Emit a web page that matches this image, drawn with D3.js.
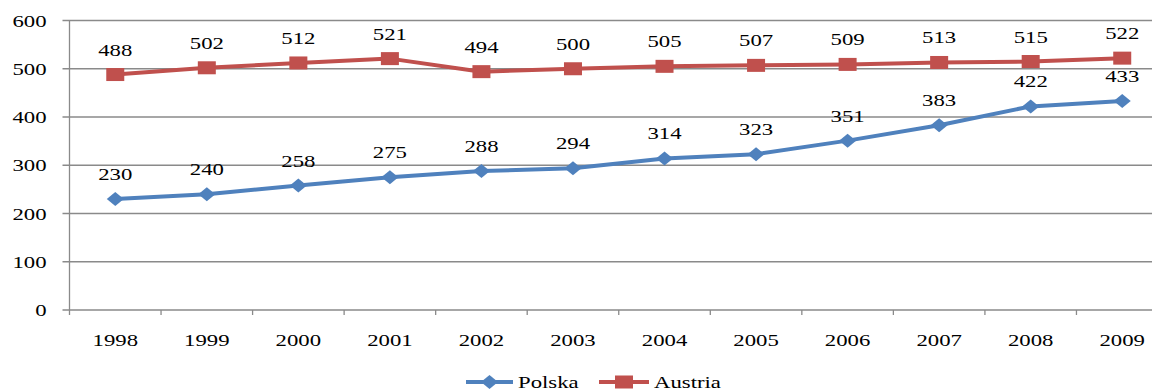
<!DOCTYPE html>
<html>
<head>
<meta charset="utf-8">
<script src="https://cdn.jsdelivr.net/npm/d3@7/dist/d3.min.js"></script>
<style>
  html, body { margin: 0; padding: 0; background: #fff; }
  svg { display: block; }
  text { font-family: "Liberation Serif", "Times New Roman", serif; fill: #000; }
</style>
</head>
<body>
<svg id="chart" width="1152" height="392"></svg>
<script>
// Data
const years = ["1998","1999","2000","2001","2002","2003","2004","2005","2006","2007","2008","2009"];
const polska = [230,240,258,275,288,294,314,323,351,383,422,433];
const austria = [488,502,512,521,494,500,505,507,509,513,515,522];
const yTicks = [0,100,200,300,400,500,600];
const seriesNames = ["Polska","Austria"];

const W = 1152, H = 392;
const plot = { left: 69.5, right: 1168, top: 20.5, bottom: 310 };
const STRETCH = 1.3; // horizontal text stretch
const FS = 17.5;

const svg = d3.select("#chart");

const x = d3.scaleBand().domain(years).range([plot.left, plot.right]);
const y = d3.scaleLinear().domain([0, 600]).range([plot.bottom, plot.top]);

// stretched text helper
function stext(g, tx, ty, str, anchor, size) {
  return g.append("text")
    .attr("transform", `translate(${tx},${ty}) scale(${STRETCH},1)`)
    .attr("text-anchor", anchor)
    .attr("font-size", size || FS)
    .text(str);
}

// gridlines + y ticks
const grid = svg.append("g");
yTicks.forEach(t => {
  grid.append("line")
    .attr("x1", plot.left - 7).attr("x2", W)
    .attr("y1", y(t)).attr("y2", y(t))
    .attr("stroke", "#8a8a8a").attr("stroke-width", 1.3);
  stext(grid, plot.left - 23, y(t) + 6, String(t), "end");
});

// y axis line
svg.append("line")
  .attr("x1", plot.left).attr("x2", plot.left)
  .attr("y1", plot.top).attr("y2", plot.bottom + 5)
  .attr("stroke", "#8a8a8a").attr("stroke-width", 1.3);

// x ticks at band boundaries
years.forEach((yr, i) => {
  const bx = x(yr);
  if (i > 0) {
    svg.append("line")
      .attr("x1", bx).attr("x2", bx)
      .attr("y1", plot.bottom).attr("y2", plot.bottom + 5)
      .attr("stroke", "#8a8a8a").attr("stroke-width", 1.3);
  }
  stext(svg, bx + x.bandwidth() / 2, 346, yr, "middle");
});

const cx = yr => x(yr) + x.bandwidth() / 2;

const series = [
  { name: seriesNames[0], vals: polska, color: "#4F81BD", marker: "diamond" },
  { name: seriesNames[1], vals: austria, color: "#C0504D", marker: "square" }
];

function drawMarker(g, mx, my, type, color) {
  if (type === "square") {
    g.append("rect")
      .attr("x", mx - 9).attr("y", my - 6.5)
      .attr("width", 18).attr("height", 13)
      .attr("fill", color);
  } else {
    g.append("path")
      .attr("d", `M${mx - 8.5},${my} L${mx},${my - 7} L${mx + 8.5},${my} L${mx},${my + 7} Z`)
      .attr("fill", color);
  }
}

const line = d3.line().x(d => cx(d.yr)).y(d => y(d.v));

series.forEach(s => {
  const pts = years.map((yr, i) => ({ yr, v: s.vals[i] }));
  const g = svg.append("g");
  g.append("path")
    .datum(pts)
    .attr("d", line)
    .attr("fill", "none")
    .attr("stroke", s.color)
    .attr("stroke-width", 4)
    .attr("stroke-linejoin", "round");
  pts.forEach(p => drawMarker(g, cx(p.yr), y(p.v), s.marker, s.color));
  pts.forEach(p => stext(g, cx(p.yr), y(p.v) - 19, String(p.v), "middle"));
});

// legend
const leg = svg.append("g");
const legendItems = [
  { s: series[0], x0: 466, x1: 513, tx: 518 },
  { s: series[1], x0: 599, x1: 649, tx: 654 }
];
const LY = 382;
legendItems.forEach(it => {
  leg.append("line")
    .attr("x1", it.x0).attr("x2", it.x1)
    .attr("y1", LY).attr("y2", LY)
    .attr("stroke", it.s.color).attr("stroke-width", 4);
  drawMarker(leg, (it.x0 + it.x1) / 2, LY, it.s.marker, it.s.color);
  stext(leg, it.tx, LY + 5.5, it.s.name, "start");
});
</script>
</body>
</html>
